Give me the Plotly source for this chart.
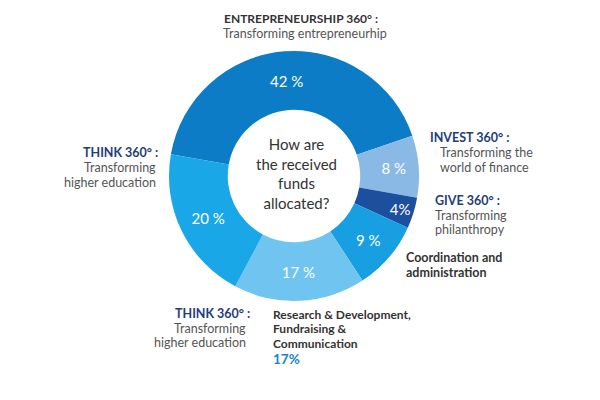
import plotly.graph_objects as go

# ---- data ----
categories = ["ENTREPRENEURSHIP 360°", "INVEST 360°", "GIVE 360°",
              "Coordination and administration",
              "Research & Development, Fundraising & Communication",
              "THINK 360°"]
values = [42, 8, 4, 9, 17, 20]
slice_labels = ["42 %", "8 %", "4%", "9 %", "17 %", "20 %"]
colors = ["#0b7cc5", "#8ab9e6", "#1d4f9f", "#189fe1", "#70c4f0", "#19a7e8"]
center_text = "How are<br>the received<br>funds<br>allocated?"

W, H = 600, 400
FONT = "Lato"
NAVY = "#1f3d78"
DARK = "#333333"
GREY = "#555555"

fig = go.Figure()
cx, cy, r = 294, 176, 125
fig.add_trace(go.Pie(
    labels=categories, values=values, text=slice_labels,
    textinfo="text", textposition="inside", insidetextorientation="horizontal",
    textfont=dict(family=FONT, size=15, color="white"),
    marker=dict(colors=colors, line=dict(width=0)),
    hole=0.53, sort=False, direction="clockwise", rotation=-80,
    showlegend=False, hoverinfo="label+text",
    domain=dict(x=[(cx - r) / W, (cx + r) / W], y=[(H - cy - r) / H, (H - cy + r) / H]),
))

ann = []
def t(x, y, s, color=GREY, size=12.5, bold=False, anchor="left"):
    ann.append(dict(x=x / W, y=1 - y / H, xref="paper", yref="paper",
                    text=f"<b>{s}</b>" if bold else s, showarrow=False,
                    xanchor=anchor, yanchor="middle",
                    font=dict(family=FONT, size=size, color=color)))

# center
t(296, 173, center_text, color=DARK, size=15, anchor="center")

# top
t(301, 19, "ENTREPRENEURSHIP 360° :", color=DARK, size=12, bold=True, anchor="center")
t(305, 34, "Transforming entrepreneurhip", anchor="center")
# left top
t(160, 152, "THINK 360° :", color=NAVY, size=12.5, bold=True, anchor="right")
t(158, 167, "Transforming", anchor="right")
t(158, 182, "higher education", anchor="right")
# invest
t(428, 137, "INVEST 360° :", color=NAVY, size=12.5, bold=True)
t(438, 152, "Transforming the")
t(438, 167, "world of finance")
# give
t(433, 200, "GIVE 360° :", color=NAVY, size=12.5, bold=True)
t(433, 215, "Transforming")
t(433, 229, "philanthropy")
# coordination
t(404, 257, "Coordination and", color=DARK, size=12.5, bold=True)
t(404, 272, "administration", color=DARK, size=12.5, bold=True)
# bottom think
t(252, 313, "THINK 360° :", color=NAVY, size=12.5, bold=True, anchor="right")
t(248, 328, "Transforming", anchor="right")
t(248, 342, "higher education", anchor="right")
# research
t(271, 314, "Research & Development,", color=DARK, size=12, bold=True)
t(271, 328.5, "Fundraising &", color=DARK, size=12, bold=True)
t(271, 343, "Communication", color=DARK, size=12, bold=True)
t(271, 359, "17%", color="#1a86c4", size=13.5, bold=True)

fig.update_layout(width=W, height=H, margin=dict(l=0, r=0, t=0, b=0),
                  paper_bgcolor="white", plot_bgcolor="white", annotations=ann)
fig.write_html("out.html", config={"displayModeBar": False},
               post_script="document.body.style.margin='0';")
